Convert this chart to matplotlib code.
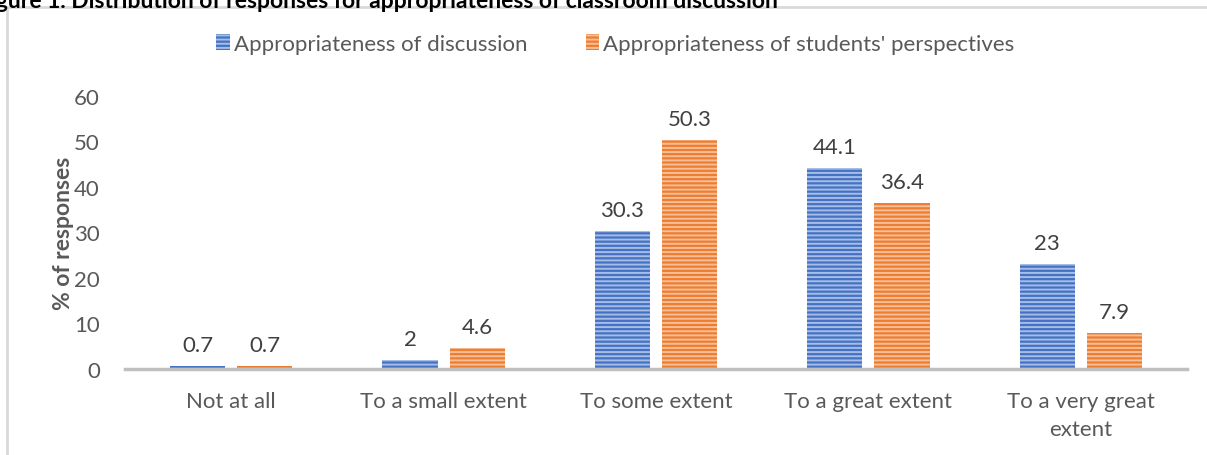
import numpy as np
import matplotlib.pyplot as plt
from matplotlib.patches import Rectangle

# data
categories = ['Not at all', 'To a small extent', 'To some extent',
              'To a great extent', 'To a very great\nextent']
discussion = [0.7, 2, 30.3, 44.1, 23]
perspectives = [0.7, 4.6, 50.3, 36.4, 7.9]
series_names = ['Appropriateness of discussion',
                "Appropriateness of students' perspectives"]

plt.rcParams['font.family'] = ['Lato', 'DejaVu Sans']
plt.rcParams['hatch.linewidth'] = 1.4

fig = plt.figure(figsize=(12.07, 4.56), dpi=100)

# outer chart frame (partially visible)
fig.patches.append(Rectangle((7 / 1207, -0.1), 1.2, 1 - 8 / 456 + 0.1,
                             transform=fig.transFigure, fill=False,
                             edgecolor='#d9d9d9', linewidth=2))

# cut-off caption at the very top
fig.text(-0.019, 1 - 1 / 456, 'Figure 1. Distribution of responses for appropriateness of classroom discussion',
         fontsize=16.5, fontweight='bold', color='black', va='center', ha='left')

ax = fig.add_axes([125 / 1207, 1 - 370 / 456, (1187 - 125) / 1207, (370 - 97) / 456])

x = np.arange(len(categories))
w = 0.26
off = 0.158
b1 = ax.bar(x - off, discussion, w, color='#4472C4', edgecolor='#a7bde6',
            linewidth=0, hatch='----', label=series_names[0])
b2 = ax.bar(x + off, perspectives, w, color='#ED7D31', edgecolor='#f7bf98',
            linewidth=0, hatch='----', label=series_names[1])

for bars, vals in [(b1, discussion), (b2, perspectives)]:
    for rect, v in zip(bars, vals):
        ax.annotate(f'{v:g}', (rect.get_x() + rect.get_width() / 2, v),
                    xytext=(0, 8), textcoords='offset points',
                    ha='center', va='bottom', fontsize=16, color='#404040')

ax.set_xlim(-0.5, len(categories) - 0.5)
ax.set_ylim(0, 60)
ax.set_yticks(range(0, 61, 10))
ax.set_xticks(x)
ax.set_xticklabels(categories, fontsize=16, color='#595959', linespacing=1.5)
ax.tick_params(axis='y', length=0, labelsize=16, labelcolor='#595959', pad=18)
ax.tick_params(axis='x', length=0, pad=16)

for s in ['top', 'right', 'left']:
    ax.spines[s].set_visible(False)
ax.spines['bottom'].set_color('#bfbfbf')
ax.spines['bottom'].set_linewidth(2.5)

ax.set_ylabel('% of responses', fontsize=16.5, fontweight='bold', color='#595959', labelpad=0)

fig.legend(handles=[b1, b2], loc='center', bbox_to_anchor=(0.5 + 12 / 1207, 1 - 45 / 456),
           ncol=2, frameon=False, fontsize=16, labelcolor='#595959',
           handlelength=0.6, handleheight=0.7, handletextpad=0.2, columnspacing=2.6)

fig.savefig('out.png', dpi=100)
